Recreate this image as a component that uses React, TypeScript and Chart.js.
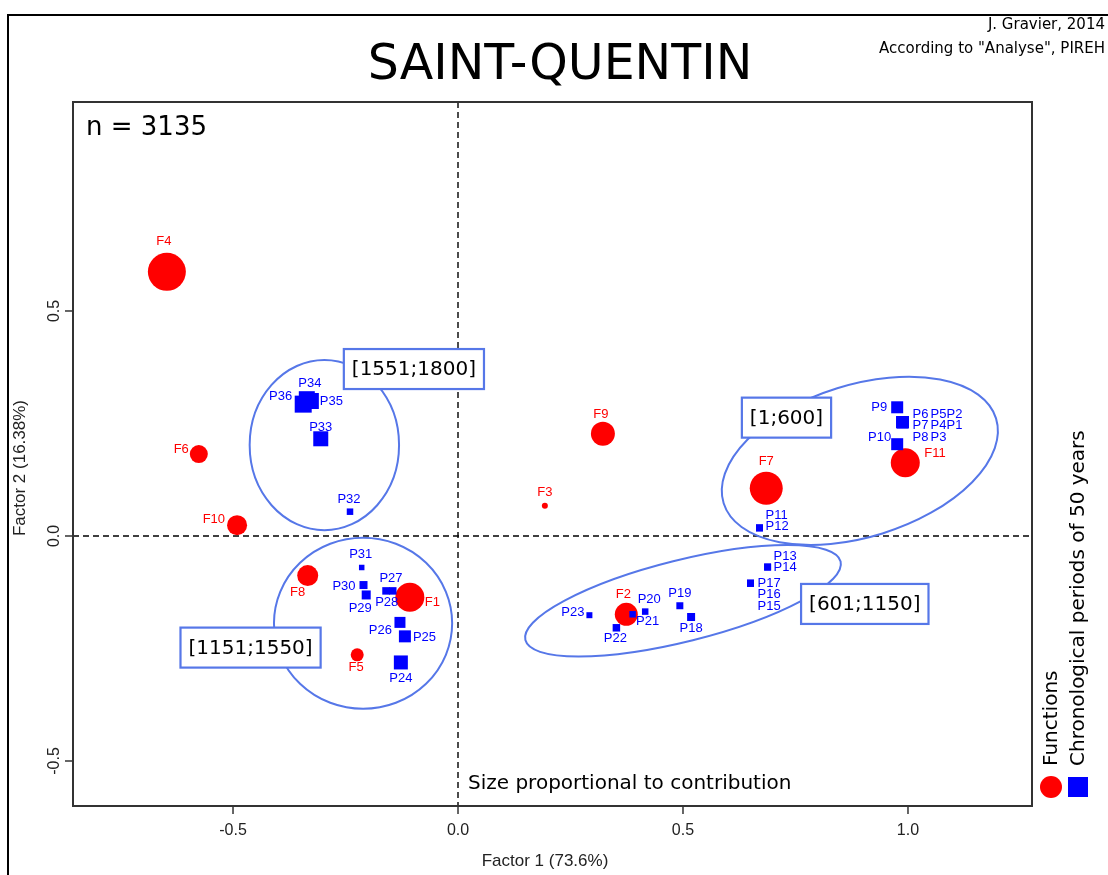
import React, { useEffect, useRef } from 'react';
import { Chart, registerables } from 'chart.js';

Chart.register(...registerables);

// ---------- data ----------
const functionNames = ['F1', 'F2', 'F3', 'F4', 'F5', 'F6', 'F7', 'F8', 'F9', 'F10', 'F11'];
const functionX = [-0.107, 0.374, 0.193, -0.647, -0.224, -0.576, 0.685, -0.334, 0.322, -0.491, 0.994];
const functionY = [-0.136, -0.174, 0.067, 0.587, -0.264, 0.182, 0.106, -0.088, 0.227, 0.024, 0.163];
// marker radius (px), proportional to contribution
const functionMarkerSize = [14.5, 11.5, 3, 19, 6.5, 9, 16.5, 10.5, 12, 10, 14.5];

const periodNames = [
  'P1', 'P2', 'P3', 'P4', 'P5', 'P6', 'P7', 'P8', 'P9', 'P10',
  'P11', 'P12', 'P13', 'P14', 'P15', 'P16', 'P17', 'P18', 'P19', 'P20',
  'P21', 'P22', 'P23', 'P24', 'P25', 'P26', 'P27', 'P28', 'P29', 'P30',
  'P31', 'P32', 'P33', 'P34', 'P35', 'P36',
];
const periodX = [
  0.988, 0.988, 0.988, 0.988, 0.988, 0.988, 0.988, 0.988, 0.976, 0.976,
  0.670, 0.670, 0.688, 0.688, 0.650, 0.650, 0.650, 0.518, 0.493, 0.416,
  0.388, 0.352, 0.292, -0.127, -0.118, -0.129, -0.160, -0.145, -0.204, -0.210,
  -0.214, -0.240, -0.305, -0.336, -0.327, -0.344,
];
const periodY = [
  0.253, 0.253, 0.253, 0.253, 0.253, 0.253, 0.253, 0.253, 0.286, 0.204,
  0.018, 0.018, -0.069, -0.069, -0.105, -0.105, -0.105, -0.180, -0.155, -0.168,
  -0.174, -0.204, -0.176, -0.281, -0.223, -0.192, -0.122, -0.122, -0.131, -0.109,
  -0.070, 0.054, 0.216, 0.304, 0.300, 0.293,
];
// square side (px), proportional to contribution
const periodMarkerSize = [
  12, 12, 12, 12, 12, 12, 12, 12, 12, 12,
  7, 7, 7, 7, 7, 7, 7, 8, 7, 6.5,
  6.5, 7.5, 6, 14, 12, 11, 7.5, 7.5, 9, 8,
  5.5, 6.5, 15, 16, 16, 17,
];

// label placement (pixel offset from mark, alignment)
const functionLabelOffsets: [number, number, string][] = [
  [15, 5, 'l'], [-3, -20, 'c'], [0, -13, 'c'], [-3, -30, 'c'], [-1, 13, 'c'], [-10, -5, 'r'],
  [0, -27, 'c'], [-10, 17, 'c'], [-2, -19, 'c'], [-12, -6, 'r'], [19, -9, 'l'],
];
const periodLabelOffsets: [number, number, string][] = [
  [44, 3.5, 'l'], [44, -8, 'l'], [28, 15, 'l'], [28, 3.5, 'l'], [28, -8, 'l'], [10, -8, 'l'],
  [10, 3.5, 'l'], [10, 15, 'l'], [-10, 0, 'r'], [-6, -7, 'r'],
  [6, -12, 'l'], [6, -1, 'l'], [6, -11, 'l'], [6, 0, 'l'], [7, 23, 'l'], [7, 11, 'l'], [7, 0, 'l'],
  [0, 11, 'c'], [0, -12, 'c'], [4, -12, 'c'], [15, 7, 'c'], [-1, 11, 'c'], [-5, -3, 'r'],
  [0, 16, 'c'], [8, 1, 'l'], [-8, 8, 'r'], [5, -12, 'c'], [-6, 12, 'c'], [-6, 13, 'c'], [-8, 1, 'r'],
  [-1, -13, 'c'], [-1, -12, 'c'], [0, -11, 'c'], [3, -16, 'c'], [9, 0, 'l'], [-11, -8, 'r'],
];

// chronological group ellipses (data units)
const groupLabels = ['[1551;1800]', '[1151;1550]', '[1;600]', '[601;1150]'];
const ellipseCenterX = [-0.297, -0.211, 0.893, 0.500];
const ellipseCenterY = [0.202, -0.194, 0.167, -0.144];
const ellipseRadiusA = [0.166, 0.198, 0.317, 0.361];
const ellipseRadiusB = [0.189, 0.190, 0.169, 0.0904];
const ellipseAngleDeg = [0, 0, 17.3, 14];
const groupLabelX = [-0.098, -0.461, 0.730, 0.904];
const groupLabelY = [0.371, -0.248, 0.263, -0.151];

const xTicks = [-0.5, 0.0, 0.5, 1.0];
const yTicks = [-0.5, 0.0, 0.5];
const xMin = -0.8556, xMax = 1.2756, yMin = -0.6, yMax = 0.9644;

const titleText = 'SAINT-QUENTIN';
const creditLines = ['J. Gravier, 2014', 'According to "Analyse", PIREH'];
const countText = 'n = 3135';
const noteText = 'Size proportional to contribution';
const xAxisTitle = 'Factor 1 (73.6%)';
const yAxisTitle = 'Factor 2 (16.38%)';
const legendLabels = ['Functions', 'Chronological periods of 50 years'];

const RED = '#ff0000';
const BLUE = '#0000ff';
const ELLIPSE = '#5677e8';

const SANS = '"DejaVu Sans", Verdana, sans-serif';
const ARIAL = '"Liberation Sans", Arial, sans-serif';

const overlay = {
  id: 'overlay',
  beforeDatasetsDraw(chart: any) {
    const ctx = chart.ctx;
    const xs = chart.scales.x;
    const ys = chart.scales.y;
    const a = chart.chartArea;
    ctx.save();
    // outer frame
    ctx.strokeStyle = '#000';
    ctx.lineWidth = 2;
    ctx.beginPath();
    ctx.moveTo(8, 876);
    ctx.lineTo(8, 15);
    ctx.lineTo(1110, 15);
    ctx.stroke();

    // zero reference lines
    ctx.setLineDash([6, 4]);
    ctx.lineWidth = 1.4;
    ctx.strokeStyle = '#000';
    const x0 = xs.getPixelForValue(0);
    const y0 = ys.getPixelForValue(0);
    ctx.beginPath();
    ctx.moveTo(x0, a.top);
    ctx.lineTo(x0, a.bottom);
    ctx.moveTo(a.left, y0);
    ctx.lineTo(a.right, y0);
    ctx.stroke();
    ctx.setLineDash([]);

    // ellipses
    const kx = xs.getPixelForValue(1) - xs.getPixelForValue(0);
    const ky = ys.getPixelForValue(0) - ys.getPixelForValue(1);
    ctx.strokeStyle = ELLIPSE;
    ctx.lineWidth = 2;
    for (let i = 0; i < groupLabels.length; i++) {
      ctx.beginPath();
      ctx.ellipse(
        xs.getPixelForValue(ellipseCenterX[i]),
        ys.getPixelForValue(ellipseCenterY[i]),
        ellipseRadiusA[i] * kx,
        ellipseRadiusB[i] * ky,
        (-ellipseAngleDeg[i] * Math.PI) / 180,
        0,
        Math.PI * 2
      );
      ctx.stroke();
    }
    ctx.restore();
  },
  afterDatasetsDraw(chart: any) {
    const ctx = chart.ctx;
    const xs = chart.scales.x;
    const ys = chart.scales.y;
    const a = chart.chartArea;
    ctx.save();

    // group label boxes
    ctx.font = `20px ${SANS}`;
    ctx.textAlign = 'center';
    ctx.textBaseline = 'middle';
    for (let i = 0; i < groupLabels.length; i++) {
      const cx = xs.getPixelForValue(groupLabelX[i]);
      const cy = ys.getPixelForValue(groupLabelY[i]);
      const w = ctx.measureText(groupLabels[i]).width + 16;
      const h = 40;
      ctx.fillStyle = '#fff';
      ctx.fillRect(cx - w / 2, cy - h / 2, w, h);
      ctx.strokeStyle = ELLIPSE;
      ctx.lineWidth = 2.2;
      ctx.strokeRect(cx - w / 2, cy - h / 2, w, h);
      ctx.fillStyle = '#000';
      ctx.fillText(groupLabels[i], cx, cy + 1);
    }

    // point labels
    ctx.font = `13px ${ARIAL}`;
    ctx.textBaseline = 'middle';
    const drawLabel = (txt: string, px: number, py: number, off: [number, number, string], color: string) => {
      ctx.fillStyle = color;
      ctx.textAlign = off[2] === 'l' ? 'left' : off[2] === 'r' ? 'right' : 'center';
      ctx.fillText(txt, px + off[0], py + off[1]);
    };
    for (let i = 0; i < functionNames.length; i++) {
      drawLabel(functionNames[i], xs.getPixelForValue(functionX[i]), ys.getPixelForValue(functionY[i]), functionLabelOffsets[i], RED);
    }
    for (let i = 0; i < periodNames.length; i++) {
      drawLabel(periodNames[i], xs.getPixelForValue(periodX[i]), ys.getPixelForValue(periodY[i]), periodLabelOffsets[i], BLUE);
    }

    // plot box
    ctx.strokeStyle = '#333';
    ctx.lineWidth = 2;
    ctx.strokeRect(a.left, a.top, a.right - a.left, a.bottom - a.top);

    // ticks + tick labels
    ctx.lineWidth = 1.5;
    ctx.fillStyle = '#222';
    ctx.font = `16px ${ARIAL}`;
    ctx.textAlign = 'center';
    ctx.textBaseline = 'middle';
    for (const v of xTicks) {
      const px = xs.getPixelForValue(v);
      ctx.beginPath();
      ctx.moveTo(px, a.bottom);
      ctx.lineTo(px, a.bottom + 8);
      ctx.stroke();
      ctx.fillText(v.toFixed(1), px, a.bottom + 25);
    }
    for (const v of yTicks) {
      const py = ys.getPixelForValue(v);
      ctx.beginPath();
      ctx.moveTo(a.left, py);
      ctx.lineTo(a.left - 8, py);
      ctx.stroke();
      ctx.save();
      ctx.translate(a.left - 18, py);
      ctx.rotate(-Math.PI / 2);
      ctx.fillText(v.toFixed(1), 0, 0);
      ctx.restore();
    }

    // axis titles
    ctx.font = `17px ${ARIAL}`;
    ctx.fillStyle = '#222';
    ctx.fillText(xAxisTitle, 545, 861);
    ctx.save();
    ctx.translate(20, 468);
    ctx.rotate(-Math.PI / 2);
    ctx.fillText(yAxisTitle, 0, 0);
    ctx.restore();

    // title + credits
    ctx.fillStyle = '#000';
    ctx.textBaseline = 'alphabetic';
    ctx.font = `49px ${SANS}`;
    ctx.textAlign = 'center';
    ctx.fillText(titleText, 560, 79);
    ctx.font = `15px ${SANS}`;
    ctx.textAlign = 'right';
    ctx.fillText(creditLines[0], 1105, 29);
    ctx.fillText(creditLines[1], 1105, 53);

    // inner texts
    ctx.textAlign = 'left';
    ctx.font = `26px ${SANS}`;
    ctx.fillText(countText, 86, 135);
    ctx.font = `20px ${SANS}`;
    ctx.fillText(noteText, 468, 789);

    // legend (vertical)
    const legendX = [1051, 1078];
    ctx.fillStyle = RED;
    ctx.beginPath();
    ctx.arc(legendX[0], 787, 11, 0, Math.PI * 2);
    ctx.fill();
    ctx.fillStyle = BLUE;
    ctx.fillRect(legendX[1] - 10, 777, 20, 20);
    ctx.fillStyle = '#000';
    ctx.font = `20px ${SANS}`;
    ctx.textBaseline = 'middle';
    for (let i = 0; i < legendLabels.length; i++) {
      ctx.save();
      ctx.translate(legendX[i] + 1, 766);
      ctx.rotate(-Math.PI / 2);
      ctx.textAlign = 'left';
      ctx.fillText(legendLabels[i], 0, 0);
      ctx.restore();
    }
    ctx.restore();
  },
};

export default function App() {
  const ref = useRef<HTMLCanvasElement>(null);
  useEffect(() => {
    const canvas = ref.current;
    if (!canvas) return;
    const chart = new Chart(canvas, {
      type: 'scatter',
      data: {
        datasets: [
          {
            label: legendLabels[1],
            data: periodNames.map((_, i) => ({ x: periodX[i], y: periodY[i] })),
            pointStyle: 'rect',
            pointRadius: periodMarkerSize.map((s) => s / Math.SQRT2),
            backgroundColor: BLUE,
            borderWidth: 0,
            order: 1,
          },
          {
            label: legendLabels[0],
            data: functionNames.map((_, i) => ({ x: functionX[i], y: functionY[i] })),
            pointStyle: 'circle',
            pointRadius: functionMarkerSize,
            backgroundColor: RED,
            borderWidth: 0,
            order: 2,
          },
        ],
      },
      options: {
        responsive: false,
        animation: false,
        events: [],
        layout: { padding: { top: 102, right: 76, left: 0, bottom: 0 } },
        plugins: { legend: { display: false }, tooltip: { enabled: false }, title: { display: false } },
        scales: {
          x: {
            type: 'linear',
            min: xMin,
            max: xMax,
            grid: { display: false },
            border: { display: false },
            ticks: { display: false },
            afterBuildTicks: (s: any) => {
              s.ticks = xTicks.map((v) => ({ value: v }));
            },
            afterFit: (s: any) => {
              s.height = 69;
            },
          },
          y: {
            type: 'linear',
            min: yMin,
            max: yMax,
            grid: { display: false },
            border: { display: false },
            ticks: { display: false },
            afterBuildTicks: (s: any) => {
              s.ticks = yTicks.map((v) => ({ value: v }));
            },
            afterFit: (s: any) => {
              s.width = 73;
            },
          },
        },
      } as any,
      plugins: [overlay],
    });
    return () => chart.destroy();
  }, []);
  return (
    <div style={{ position: 'absolute', left: 0, top: 0, width: 1108, height: 875, background: '#fff' }}>
      <canvas ref={ref} width={1108} height={875} style={{ display: 'block', width: 1108, height: 875 }} />
    </div>
  );
}
